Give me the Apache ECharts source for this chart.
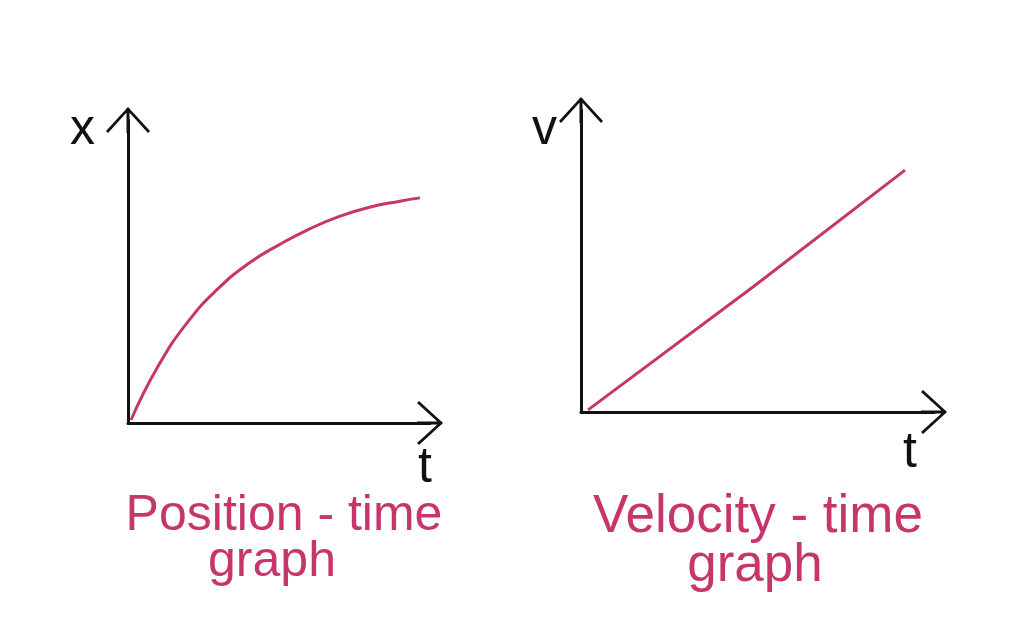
<!DOCTYPE html>
<html>
<head>
<meta charset="utf-8">
<script src="https://cdn.jsdelivr.net/npm/echarts@6/dist/echarts.min.js"></script>
<style>html,body{margin:0;padding:0;background:#fff}#c{width:1024px;height:642px}</style>
</head>
<body>
<div id="c"></div>
<script>
// Position-time curve (t, x)
const positionTime = [[0.1,0.1],[1,1.88],[2,3.36],[3,4.45],[4,5.27],[5,5.88],[6,6.40],[7,6.82],[8,7.12],[9,7.32],[9.67,7.43]];
// Velocity-time line (t, v)
const velocityTime = [[0.2,0.07],[4.87,4.14],[9.18,8.01]];
const axisNames = {left: {x: 't', y: 'x'}, right: {x: 't', y: 'v'}};
const titles = {left: ['Position - time', 'graph'], right: ['Velocity - time', 'graph']};

const pink = '#c7366b';
const ink = '#111';
const chevron = 'path://M22,0 L44,24 L42,26 L22,4 L2,26 L0,24 Z M20.5,1 L23.5,1 L23.5,26 L20.5,26 Z';

function axisBase(extra) {
  return Object.assign({
    type: 'value', min: 0, max: 10,
    axisLine: {show: true, onZero: false, symbol: ['none', chevron], symbolSize: [44, 26],
      lineStyle: {color: ink, width: 3}},
    axisTick: {show: false}, axisLabel: {show: false}, splitLine: {show: false},
    nameLocation: 'end'
  }, extra);
}
const nameFont = {fontFamily: 'Liberation Sans', fontSize: 50, color: ink};
const titleFont = {fontFamily: 'Liberation Sans', fontWeight: 'normal', fontSize: 50, color: pink, lineHeight: 50};
const titleFontR = Object.assign({}, titleFont, {fontSize: 53, lineHeight: 53});

const chart = echarts.init(document.getElementById('c'));
chart.setOption({
  backgroundColor: '#fff',
  animation: false,
  title: [
    {text: titles.left[0], left: 284, top: 491, textAlign: 'center', padding: 0, textStyle: titleFont},
    {text: titles.left[1], left: 272, top: 537, textAlign: 'center', padding: 0, textStyle: titleFont},
    {text: titles.right[0], left: 758, top: 491, textAlign: 'center', padding: 0, textStyle: titleFontR},
    {text: titles.right[1], left: 755, top: 540, textAlign: 'center', padding: 0, textStyle: titleFontR}
  ],
  grid: [
    {left: 128, top: 120, width: 302, height: 303},
    {left: 581, top: 110, width: 353, height: 302}
  ],
  xAxis: [
    axisBase({gridIndex: 0, name: axisNames.left.x, nameGap: -5,
      nameTextStyle: Object.assign({}, nameFont, {align: 'center', verticalAlign: 'top', padding: [20, 0, 0, 0]})}),
    axisBase({gridIndex: 1, name: axisNames.right.x, nameGap: -24,
      nameTextStyle: Object.assign({}, nameFont, {align: 'center', verticalAlign: 'top', padding: [16, 0, 0, 0]})})
  ],
  yAxis: [
    axisBase({gridIndex: 0, name: axisNames.left.y, nameGap: -10,
      nameTextStyle: Object.assign({}, nameFont, {align: 'right', verticalAlign: 'middle', padding: [0, 33, 0, 0]})}),
    axisBase({gridIndex: 1, name: axisNames.right.y, nameGap: -20,
      nameTextStyle: Object.assign({}, nameFont, {align: 'right', verticalAlign: 'middle', padding: [0, 24, 0, 0]})})
  ],
  series: [
    {type: 'line', xAxisIndex: 0, yAxisIndex: 0, data: positionTime, smooth: 0.5, showSymbol: false,
      lineStyle: {color: pink, width: 3}},
    {type: 'line', xAxisIndex: 1, yAxisIndex: 1, data: velocityTime, smooth: false, showSymbol: false,
      lineStyle: {color: pink, width: 3}}
  ]
});
</script>
</body>
</html>
